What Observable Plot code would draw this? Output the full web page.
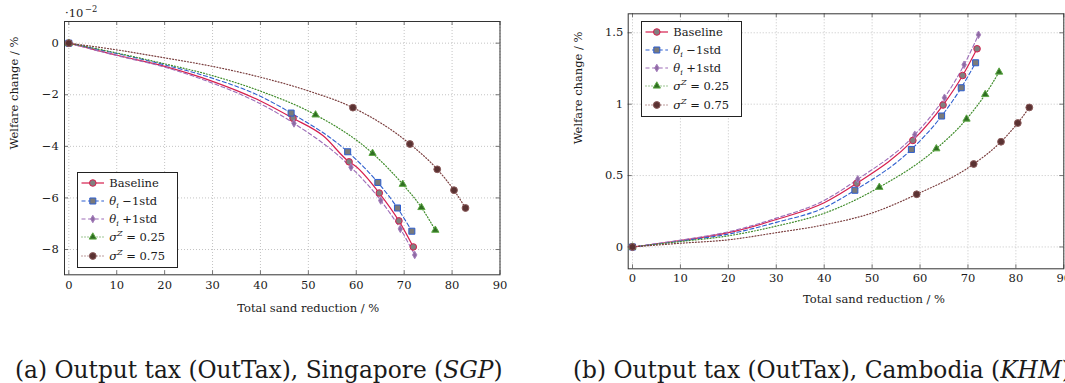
<!DOCTYPE html>
<html><head><meta charset="utf-8">
<script src="https://cdn.jsdelivr.net/npm/d3@7"></script>
<script src="https://cdn.jsdelivr.net/npm/@observablehq/plot@0.6"></script>
<style>
body{margin:0;background:#fff;}
#wrap{position:relative;width:1065px;height:383px;overflow:hidden;font-family:"DejaVu Serif",serif;color:#1a1a1a;}
.panel{position:absolute;top:0;}
.legend{position:absolute;border:1px solid #222;background:#fff;box-sizing:border-box;}
.row{position:absolute;left:0;height:16px;display:flex;align-items:center;font-size:11.5px;white-space:nowrap;}
.row svg{position:absolute;left:3px;top:2px;}
.row span.t{position:absolute;white-space:nowrap;line-height:16px;}
.cap{position:absolute;font-size:23.3px;white-space:nowrap;line-height:28px;}
i{font-style:italic;}
.sub{font-size:8px;position:relative;top:3px;font-style:italic;}
.sup{font-size:8px;position:relative;top:-5px;font-style:italic;}
</style></head><body><div id="wrap"></div>
<script>
// ---------- tick values ----------
const xTicks = [0, 10, 20, 30, 40, 50, 60, 70, 80, 90];
const sgpYTicks = [-8, -6, -4, -2, 0];
const khmYTicks = [0, 0.5, 1, 1.5];

// ---------- marked points: total sand reduction (%) ----------
const baseX        = [0, 46.8, 58.5, 64.8, 68.9, 71.9];
const thetaMinusX  = [0, 46.4, 58.2, 64.5, 68.6, 71.6];
const thetaPlusX   = [0, 47.0, 58.9, 65.1, 69.2, 72.2];
const sigma25X     = [0, 51.5, 63.4, 69.7, 73.6, 76.5];
const sigma75X     = [0, 59.3, 71.2, 76.9, 80.4, 82.8];

// ---------- welfare change, Singapore (x 1e-2 %) ----------
const sgpBaseY       = [0, -2.91, -4.60, -5.81, -6.89, -7.90];
const sgpThetaMinusY = [0, -2.71, -4.21, -5.40, -6.39, -7.29];
const sgpThetaPlusY  = [0, -3.11, -4.81, -6.10, -7.20, -8.21];
const sgpSigma25Y    = [0, -2.78, -4.27, -5.47, -6.37, -7.25];
const sgpSigma75Y    = [0, -2.50, -3.91, -4.89, -5.70, -6.39];

// ---------- welfare change, Cambodia (%) ----------
const khmBaseY       = [0, 0.446, 0.746, 0.994, 1.201, 1.388];
const khmThetaMinusY = [0, 0.397, 0.683, 0.917, 1.115, 1.290];
const khmThetaPlusY  = [0, 0.474, 0.786, 1.045, 1.276, 1.486];
const khmSigma25Y    = [0, 0.418, 0.688, 0.896, 1.068, 1.225];
const khmSigma75Y    = [0, 0.369, 0.581, 0.737, 0.868, 0.977];

// ---------- unmarked points ----------
const midX = [10, 20, 30, 40];
const sgpBaseMid       = [-0.47, -0.90, -1.48, -2.24];
const sgpThetaMinusMid = [-0.40, -0.84, -1.36, -2.06];
const sgpThetaPlusMid  = [-0.48, -0.93, -1.55, -2.35];
const sgpSigma25Mid    = [-0.38, -0.80, -1.26, -1.86];
const sgpSigma75Mid    = [-0.26, -0.57, -0.90, -1.32];
const sgpBaseKinkX = [53.1, 59.8];
const sgpBaseKinkY = [-3.59, -4.76];
const sigma75ExtraX = [50];
const sgpSigma75Extra = [-1.85];
const khmSigma75Extra = [0.238];

const khmBaseMid       = [0.045, 0.100, 0.192, 0.310];
const khmThetaMinusMid = [0.042, 0.090, 0.172, 0.275];
const khmThetaPlusMid  = [0.048, 0.106, 0.202, 0.326];
const khmSigma25Mid    = [0.038, 0.078, 0.146, 0.236];
const khmSigma75Mid    = [0.026, 0.050, 0.100, 0.155];

// ---------- labels ----------
const legendLabels = [
  'Baseline',
  '<i>θ</i><span class="sub">i</span>&nbsp;−1std',
  '<i>θ</i><span class="sub">i</span>&nbsp;+1std',
  '<i>σ</i><span class="sup">Z</span>&nbsp;= 0.25',
  '<i>σ</i><span class="sup">Z</span>&nbsp;= 0.75'
];
const xLabel = "Total sand reduction / %";
const yLabel = "Welfare change / %";
const scaleBase = "·10";
const scaleExp = "−2";

const styles = [
  {stroke:"#d61f4e", dash:null,    width:1.2, symbol:"circle",   r:3.3, fill:"#808080", mstroke:"#d61f4e"},
  {stroke:"#2e5fcf", dash:"4,2.6", width:1.1, symbol:"square",   r:3.4, fill:"#7a7a7a", mstroke:"#2e5fcf"},
  {stroke:"#9d6db8", dash:"4,2.6", width:1.1, symbol:"diamond",  r:2.3, fill:"#8e6aa3", mstroke:"#a680bd"},
  {stroke:"#3f8c2a", dash:"1,2",   width:1.2, symbol:"triangle", r:2.7, fill:"#2f6e22", mstroke:"#5da845"},
  {stroke:"#7b3f3f", dash:"1,2",   width:1.2, symbol:"circle",   r:3.4, fill:"#5a3232", mstroke:"#8a5a5a"}
];

function makeSeries(x, y, ex, ey) {
  const markers = x.map((v, i) => ({x: v, y: y[i]}));
  const line = markers.concat(ex.map((v, i) => ({x: v, y: ey[i]}))).sort((a, b) => a.x - b.x);
  return {markers, line};
}

const sgpSeries = [
  makeSeries(baseX, sgpBaseY, midX.concat(sgpBaseKinkX), sgpBaseMid.concat(sgpBaseKinkY)),
  makeSeries(thetaMinusX, sgpThetaMinusY, midX, sgpThetaMinusMid),
  makeSeries(thetaPlusX, sgpThetaPlusY, midX, sgpThetaPlusMid),
  makeSeries(sigma25X, sgpSigma25Y, midX, sgpSigma25Mid),
  makeSeries(sigma75X, sgpSigma75Y, midX.concat(sigma75ExtraX), sgpSigma75Mid.concat(sgpSigma75Extra))
];
const khmSeries = [
  makeSeries(baseX, khmBaseY, midX, khmBaseMid),
  makeSeries(thetaMinusX, khmThetaMinusY, midX, khmThetaMinusMid),
  makeSeries(thetaPlusX, khmThetaPlusY, midX, khmThetaPlusMid),
  makeSeries(sigma25X, khmSigma25Y, midX, khmSigma25Mid),
  makeSeries(sigma75X, khmSigma75Y, midX.concat(sigma75ExtraX), khmSigma75Mid.concat(khmSigma75Extra))
];

const fmtSgp = d => d === 0 ? "0" : (d < 0 ? "−" : "") + Math.abs(d);
const fmtKhm = d => String(d);

function panel(o) {
  const iw = o.width - o.ml - o.mr, ih = o.height - o.mt - o.mb;
  const fs = 11.5;
  const marks = [
    Plot.ruleX(xTicks, {x: d => d, stroke: "#c4c4c4", strokeDasharray: "1,2"}),
    Plot.ruleY(o.yTicks, {y: d => d, stroke: "#c4c4c4", strokeDasharray: "1,2"}),
    Plot.ruleX(xTicks, {x: d => d, stroke: "#777", insetTop: ih - 4}),
    Plot.ruleX(xTicks, {x: d => d, stroke: "#777", insetBottom: ih - 4}),
    Plot.ruleY(o.yTicks, {y: d => d, stroke: "#777", insetRight: iw - 4}),
    Plot.ruleY(o.yTicks, {y: d => d, stroke: "#777", insetLeft: iw - 4}),
    Plot.frame({stroke: "#333", strokeWidth: 1})
  ];
  o.series.forEach((s, i) => {
    const st = styles[i];
    marks.push(Plot.line(s.line, {x: "x", y: "y", stroke: st.stroke, strokeWidth: st.width,
      strokeDasharray: st.dash, curve: "monotone-x"}));
  });
  o.series.forEach((s, i) => {
    const st = styles[i];
    marks.push(Plot.dot(s.markers, {x: "x", y: "y", symbol: st.symbol, r: st.r, fill: st.fill,
      stroke: st.mstroke, strokeWidth: 1}));
  });
  marks.push(
    Plot.text(xTicks, {x: d => d, frameAnchor: "bottom", dy: o.xTickDy, lineAnchor: "middle",
      text: d => String(d), fontSize: fs, fill: "#1a1a1a"}),
    Plot.text(o.yTicks, {y: d => d, frameAnchor: "left", dx: o.yTickDx, textAnchor: "end",
      lineAnchor: "middle", text: o.fmt, fontSize: fs, fill: "#1a1a1a"}),
    Plot.text([xLabel], {frameAnchor: "bottom", dx: o.xLabDx, dy: o.xLabDy, lineAnchor: "middle",
      fontSize: fs, fill: "#1a1a1a"}),
    Plot.text([yLabel], {frameAnchor: "left", rotate: -90, dx: o.yLabDx, dy: o.yLabDy,
      lineAnchor: "middle", fontSize: fs, fill: "#1a1a1a"})
  );
  if (o.scaleLabel) marks.push(
    Plot.text([scaleBase], {frameAnchor: "top-left", dx: 0.5, dy: -8.5,
      textAnchor: "start", lineAnchor: "middle", fontSize: fs, fill: "#1a1a1a"}),
    Plot.text([scaleExp], {frameAnchor: "top-left", dx: 20.5, dy: -12.5,
      textAnchor: "start", lineAnchor: "middle", fontSize: 8.3, fill: "#1a1a1a"})
  );
  return Plot.plot({
    width: o.width, height: o.height,
    marginLeft: o.ml, marginRight: o.mr, marginTop: o.mt, marginBottom: o.mb,
    x: {domain: [-0.9, 90], axis: null},
    y: {domain: o.yDomain, axis: null},
    style: {fontFamily: "'DejaVu Serif', serif", background: "transparent", overflow: "visible"},
    marks
  });
}

function legend(left, top) {
  const box = document.createElement("div");
  box.className = "legend";
  Object.assign(box.style, {left: left + "px", top: top + "px", width: "101.5px", height: "96.5px"});
  const rowY = [11.5, 29.3, 47.2, 65.6, 84.5];
  styles.forEach((st, i) => {
    const row = document.createElement("div");
    row.className = "row";
    row.style.top = (rowY[i] - 1 - 8) + "px";
    row.style.width = "100px";
    const sym = {circle: d3.symbolCircle, square: d3.symbolSquare, diamond: d3.symbolDiamond, triangle: d3.symbolTriangle}[st.symbol];
    const path = d3.symbol(sym, Math.PI * st.r * st.r)();
    row.innerHTML = `<svg width="24" height="12" viewBox="0 0 24 12">
      <line x1="0.5" x2="23" y1="6" y2="6" stroke="${st.stroke}" stroke-width="${st.width}" ${st.dash ? `stroke-dasharray="${st.dash}"` : ""}/>
      <path transform="translate(11.8,6)" d="${path}" fill="${st.fill}" stroke="${st.mstroke}" stroke-width="1"/></svg>
      <span class="t" style="left:31.5px;top:0">${legendLabels[i]}</span>`;
    box.appendChild(row);
  });
  return box;
}

const wrap = document.getElementById("wrap");

const left = panel({width: 530, height: 330, ml: 64, mr: 30.5, mt: 21, mb: 55.7,
  yDomain: [-8.98, 0.84], yTicks: sgpYTicks, fmt: fmtSgp, series: sgpSeries,
  xTickDy: 10.7, yTickDx: -5.7, xLabDx: 26, xLabDy: 33.7, yLabDx: -50.5, yLabDy: 1.3,
  scaleLabel: true});
left.classList.add("panel"); left.style.left = "0px";
wrap.appendChild(left);

const right = panel({width: 535, height: 330, ml: 97.7, mr: 1.7, mt: 13.3, mb: 61.7,
  yDomain: [-0.153, 1.633], yTicks: khmYTicks, fmt: fmtKhm, series: khmSeries,
  xTickDy: 9.4, yTickDx: -5, xLabDx: 28, xLabDy: 30.7, yLabDx: -50.2, yLabDy: 3});
right.classList.add("panel"); right.style.left = "530px";
wrap.appendChild(right);

wrap.appendChild(legend(76.7, 171.7));
wrap.appendChild(legend(640.7, 20.7));

const capA = document.createElement("div");
capA.className = "cap"; capA.style.left = "15px"; capA.style.top = "356px";
capA.innerHTML = "(a) Output tax (OutTax), Singapore (<i>SGP</i>)";
wrap.appendChild(capA);
const capB = document.createElement("div");
capB.className = "cap"; capB.style.left = "573px"; capB.style.top = "356px";
capB.innerHTML = "(b) Output tax (OutTax), Cambodia (<i>KHM</i>)";
wrap.appendChild(capB);
</script></body></html>
